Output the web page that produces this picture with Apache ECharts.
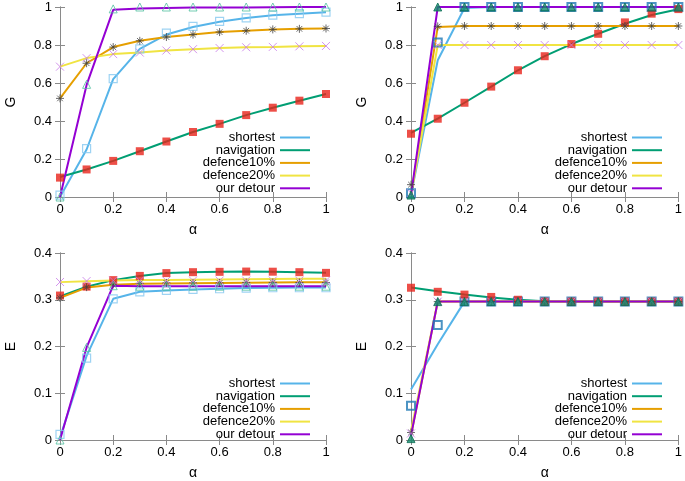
<!DOCTYPE html>
<html>
<head>
<meta charset="utf-8">
<script src="https://cdn.jsdelivr.net/npm/echarts@6/dist/echarts.min.js"></script>
<style>html,body{margin:0;padding:0;background:#fff;}#c{width:685px;height:481px;}</style>
</head>
<body>
<div id="c"></div>
<script>
// ---------- data ----------
const ALPHA = [0, 0.1, 0.2, 0.3, 0.4, 0.5, 0.6, 0.7, 0.8, 0.9, 1];
const SERIES_NAMES = ['shortest', 'navigation', 'defence10%', 'defence20%', 'our detour'];
const X_TICKS = [0, 0.2, 0.4, 0.6, 0.8, 1];
const G_TICKS = [0, 0.2, 0.4, 0.6, 0.8, 1];
const E_TICKS = [0, 0.1, 0.2, 0.3, 0.4];

// Panel A (top-left, G) — lines
const A_line_shortest   = [0, 0.25, 0.62, 0.78, 0.855, 0.895, 0.922, 0.942, 0.956, 0.965, 0.972];
const A_line_navigation = [0.105, 0.145, 0.19, 0.241, 0.292, 0.342, 0.385, 0.431, 0.47, 0.507, 0.542];
const A_line_def10      = [0.519, 0.704, 0.789, 0.822, 0.842, 0.855, 0.868, 0.875, 0.882, 0.885, 0.887];
const A_line_def20      = [0.686, 0.731, 0.752, 0.76, 0.771, 0.778, 0.784, 0.788, 0.79, 0.793, 0.795];
const A_line_detour     = [0, 0.59, 0.985, 0.992, 0.995, 0.997, 0.998, 0.998, 0.999, 1, 1];
// Panel A — points
const A_pts_shortest    = [0.01, 0.255, 0.623, 0.78, 0.862, 0.898, 0.924, 0.943, 0.957, 0.965, 0.973];
const A_pts_navigation  = [0.102, 0.145, 0.19, 0.241, 0.292, 0.342, 0.385, 0.431, 0.47, 0.507, 0.542];
const A_pts_def10       = [0.519, 0.704, 0.789, 0.822, 0.842, 0.855, 0.868, 0.875, 0.882, 0.885, 0.887];
const A_pts_def20       = [0.686, 0.731, 0.752, 0.76, 0.771, 0.778, 0.784, 0.788, 0.79, 0.793, 0.795];
const A_pts_detour      = [0, 0.593, 0.99, 1, 1, 1, 1, 1, 1, 1, 1];

// Panel B (top-right, G) — lines
const B_line_shortest   = [0.01, 0.72, 0.995, 1, 1, 1, 1, 1, 1, 1, 1];
const B_line_navigation = [0.338, 0.412, 0.496, 0.581, 0.667, 0.741, 0.805, 0.859, 0.912, 0.958, 0.988];
const B_line_def10      = [0.01, 0.895, 0.9, 0.9, 0.9, 0.9, 0.9, 0.9, 0.9, 0.9, 0.9];
const B_line_def20      = [0.01, 0.8, 0.8, 0.8, 0.8, 0.8, 0.8, 0.8, 0.8, 0.8, 0.8];
const B_line_detour     = [0.01, 1, 1, 1, 1, 1, 1, 1, 1, 1, 1];
// Panel B — points
const B_pts_shortest    = [0.02, 0.813, 1, 1, 1, 1, 1, 1, 1, 1, 1];
const B_pts_navigation  = [0.333, 0.412, 0.496, 0.581, 0.667, 0.741, 0.805, 0.859, 0.919, 0.965, 0.989];
const B_pts_def10       = [0.065, 0.898, 0.9, 0.9, 0.9, 0.9, 0.9, 0.9, 0.9, 0.9, 0.9];
const B_pts_def20       = [0.02, 0.8, 0.8, 0.8, 0.8, 0.8, 0.8, 0.8, 0.8, 0.8, 0.8];
const B_pts_detour      = [0.01, 1, 1, 1, 1, 1, 1, 1, 1, 1, 1];

// Panel C (bottom-left, E) — lines
const C_line_shortest   = [0.005, 0.18, 0.302, 0.317, 0.32, 0.322, 0.3235, 0.325, 0.3255, 0.326, 0.326];
const C_line_navigation = [0.307, 0.328, 0.342, 0.351, 0.357, 0.359, 0.3597, 0.3603, 0.36, 0.359, 0.3575];
const C_line_def10      = [0.304, 0.326, 0.332, 0.334, 0.335, 0.3355, 0.336, 0.3365, 0.337, 0.3375, 0.3377];
const C_line_def20      = [0.3377, 0.3395, 0.341, 0.342, 0.3425, 0.343, 0.3435, 0.344, 0.3445, 0.345, 0.345];
const C_line_detour     = [0, 0.198, 0.33, 0.329, 0.329, 0.329, 0.329, 0.329, 0.329, 0.329, 0.329];
// Panel C — points
const C_pts_shortest    = [0.012, 0.175, 0.302, 0.317, 0.32, 0.322, 0.3235, 0.325, 0.3257, 0.3257, 0.3257];
const C_pts_navigation  = [0.309, 0.328, 0.342, 0.351, 0.357, 0.359, 0.3597, 0.3603, 0.36, 0.359, 0.3575];
const C_pts_def10       = [0.304, 0.327, 0.333, 0.335, 0.336, 0.336, 0.336, 0.337, 0.337, 0.337, 0.337];
const C_pts_def20       = [0.338, 0.34, 0.341, 0.341, 0.341, 0.341, 0.341, 0.341, 0.341, 0.341, 0.341];
const C_pts_detour      = [0, 0.198, 0.33, 0.329, 0.329, 0.329, 0.329, 0.329, 0.329, 0.329, 0.329];

// Panel D (bottom-right, E) — lines
const D_line_shortest   = [0.108, 0.205, 0.296, 0.296, 0.296, 0.296, 0.296, 0.296, 0.296, 0.296, 0.296];
const D_line_navigation = [0.326, 0.318, 0.311, 0.305, 0.3, 0.297, 0.296, 0.296, 0.296, 0.296, 0.296];
const D_line_def10      = [0.01, 0.296, 0.296, 0.296, 0.296, 0.296, 0.296, 0.296, 0.296, 0.296, 0.296];
const D_line_def20      = [0.02, 0.296, 0.296, 0.296, 0.296, 0.296, 0.296, 0.296, 0.296, 0.296, 0.296];
const D_line_detour     = [0.01, 0.296, 0.296, 0.296, 0.296, 0.296, 0.296, 0.296, 0.296, 0.296, 0.296];
// Panel D — points
const D_pts_shortest    = [0.073, 0.246, 0.296, 0.296, 0.296, 0.296, 0.296, 0.296, 0.296, 0.296, 0.296];
const D_pts_navigation  = [0.3257, 0.317, 0.311, 0.306, 0.3, 0.296, 0.296, 0.296, 0.296, 0.296, 0.296];
const D_pts_def10       = [0.016, 0.296, 0.296, 0.296, 0.296, 0.296, 0.296, 0.296, 0.296, 0.296, 0.296];
const D_pts_def20       = [0.014, 0.296, 0.296, 0.296, 0.296, 0.296, 0.296, 0.296, 0.296, 0.296, 0.296];
const D_pts_detour      = [0.003, 0.296, 0.296, 0.296, 0.296, 0.296, 0.296, 0.296, 0.296, 0.296, 0.296];

// ---------- styling ----------
const FONT = 'Liberation Sans, Arial, Helvetica, sans-serif';
const LINE_COLORS = ['#56b4e9', '#009e73', '#e69f00', '#f0e442', '#9400d3'];
const AXIS_COLOR = '#8a8a8a';
const STAR = 'path://M5,0L5,10M0,5L10,5M1.5,1.5L8.5,8.5M8.5,1.5L1.5,8.5';
const CROSS = 'path://M0,0L10,10M10,0L0,10';

const panels = [
  { name: 'G', ticks: G_TICKS, max: 1, interval: 0.2, grid: {left: 60, top: 7, width: 266, height: 190},
    lines: [A_line_shortest, A_line_navigation, A_line_def10, A_line_def20, A_line_detour],
    pts: [A_pts_shortest, A_pts_navigation, A_pts_def10, A_pts_def20, A_pts_detour], dark: false,
    legend: {right: 685 - 311, top: 131} },
  { name: 'G', ticks: G_TICKS, max: 1, interval: 0.2, grid: {left: 411, top: 7, width: 268, height: 190},
    lines: [B_line_shortest, B_line_navigation, B_line_def10, B_line_def20, B_line_detour],
    pts: [B_pts_shortest, B_pts_navigation, B_pts_def10, B_pts_def20, B_pts_detour], dark: true,
    legend: {right: 685 - 663, top: 131} },
  { name: 'E', ticks: E_TICKS, max: 0.4, interval: 0.1, grid: {left: 60, top: 253, width: 266, height: 189},
    lines: [C_line_shortest, C_line_navigation, C_line_def10, C_line_def20, C_line_detour],
    pts: [C_pts_shortest, C_pts_navigation, C_pts_def10, C_pts_def20, C_pts_detour], dark: false,
    legend: {right: 685 - 311, top: 377} },
  { name: 'E', ticks: E_TICKS, max: 0.4, interval: 0.1, grid: {left: 411, top: 253, width: 268, height: 189},
    lines: [D_line_shortest, D_line_navigation, D_line_def10, D_line_def20, D_line_detour],
    pts: [D_pts_shortest, D_pts_navigation, D_pts_def10, D_pts_def20, D_pts_detour], dark: true,
    legend: {right: 685 - 663, top: 377} }
];

function markerStyle(k, dark) {
  switch (k) {
    case 0: return dark
      ? {symbol: 'rect', symbolSize: 8, itemStyle: {color: 'rgba(0,0,0,0)', borderColor: '#1f78b4', borderWidth: 2}}
      : {symbol: 'rect', symbolSize: 8, itemStyle: {color: 'rgba(0,0,0,0)', borderColor: '#86c8f0', borderWidth: 1.2}};
    case 1: return {symbol: 'rect', symbolSize: 8, itemStyle: {color: '#e8231a', borderWidth: 0}};
    case 2: return {symbol: STAR, symbolSize: 8, itemStyle: {color: 'rgba(0,0,0,0)', borderColor: '#444', borderWidth: 1}};
    case 3: return {symbol: CROSS, symbolSize: 8, itemStyle: {color: 'rgba(0,0,0,0)', borderColor: '#c87ae8', borderWidth: 1}};
    case 4: return dark
      ? {symbol: 'triangle', symbolSize: 8, itemStyle: {color: '#108a6a', borderColor: '#0c6e55', borderWidth: 1}}
      : {symbol: 'triangle', symbolSize: 8, itemStyle: {color: 'rgba(0,0,0,0)', borderColor: '#52c0a0', borderWidth: 1}};
  }
}

const option = {
  animation: false,
  backgroundColor: '#fff',
  grid: [], xAxis: [], yAxis: [], legend: [], series: []
};

panels.forEach((p, i) => {
  option.grid.push(Object.assign({containLabel: false}, p.grid));
  const labelStyle = {color: '#000', fontSize: 13, fontFamily: FONT};
  const tick = {show: true, inside: true, length: 5, lineStyle: {color: AXIS_COLOR}};
  const axLine = {show: true, lineStyle: {color: AXIS_COLOR, width: 1}};
  // bottom x
  option.xAxis.push({
    type: 'value', gridIndex: i, min: 0, max: 1, interval: 0.2, position: 'bottom',
    axisLine: axLine, axisTick: tick, splitLine: {show: false},
    axisLabel: Object.assign({margin: 6, formatter: v => String(+v.toFixed(1))}, labelStyle),
    name: 'α', nameLocation: 'middle', nameGap: 26,
    nameTextStyle: {color: '#000', fontSize: 14, fontFamily: FONT}
  });
  // top mirror x
  option.xAxis.push({
    type: 'value', gridIndex: i, min: 0, max: 1, interval: 0.2, position: 'top',
    axisLine: axLine, axisTick: tick, splitLine: {show: false}, axisLabel: {show: false}
  });
  // left y
  option.yAxis.push({
    type: 'value', gridIndex: i, min: 0, max: p.max, interval: p.interval, position: 'left',
    axisLine: axLine, axisTick: tick, splitLine: {show: false},
    axisLabel: Object.assign({margin: 8, formatter: v => String(+v.toFixed(1))}, labelStyle),
    name: p.name, nameLocation: 'middle', nameGap: 42, nameRotate: 90,
    nameTextStyle: {color: '#000', fontSize: 14, fontFamily: FONT}
  });
  // right mirror y
  option.yAxis.push({
    type: 'value', gridIndex: i, min: 0, max: p.max, interval: p.interval, position: 'right',
    axisLine: axLine, axisTick: tick, splitLine: {show: false}, axisLabel: {show: false}
  });

  option.legend.push({
    data: SERIES_NAMES, orient: 'vertical', align: 'right',
    right: p.legend.right, top: p.legend.top, padding: 0,
    itemWidth: 30, itemHeight: 12, itemGap: -0.3,
    selectedMode: false,
    itemStyle: {opacity: 0},
    lineStyle: {width: 2},
    textStyle: {color: '#000', fontSize: 13, fontFamily: FONT, lineHeight: 12}
  });

  // lines
  p.lines.forEach((vals, k) => {
    option.series.push({
      type: 'line', name: SERIES_NAMES[k], xAxisIndex: 2 * i, yAxisIndex: 2 * i,
      data: ALPHA.map((a, j) => [a, vals[j]]),
      symbol: 'none', showSymbol: false, clip: false,
      lineStyle: {color: LINE_COLORS[k], width: 2}, itemStyle: {color: LINE_COLORS[k]},
      z: 2 + k * 0.01
    });
  });
  // points
  p.pts.forEach((vals, k) => {
    option.series.push(Object.assign({
      type: 'scatter', name: SERIES_NAMES[k] + ' pts', xAxisIndex: 2 * i, yAxisIndex: 2 * i,
      data: ALPHA.map((a, j) => [a, vals[j]]), clip: false, z: 3 + k * 0.01
    }, markerStyle(k, p.dark)));
  });
});

const chart = echarts.init(document.getElementById('c'), null, {renderer: 'canvas'});
chart.setOption(option);
</script>
</body>
</html>
